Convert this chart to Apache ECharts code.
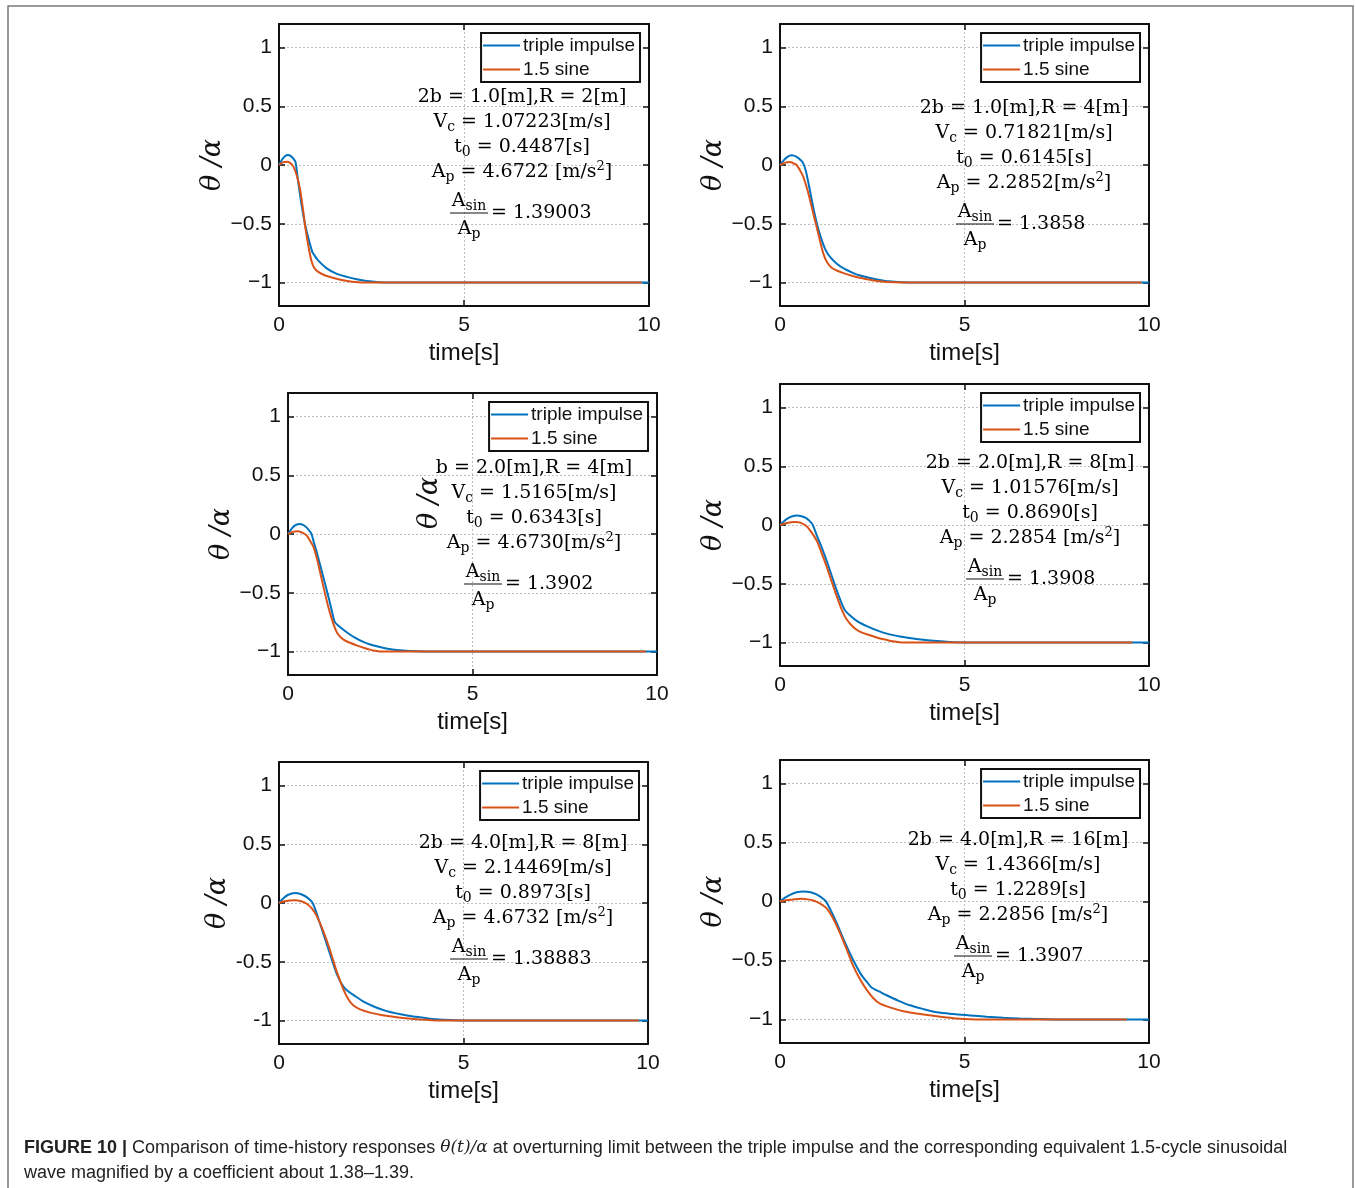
<!DOCTYPE html>
<html>
<head>
<meta charset="utf-8">
<title>Figure 10</title>
<script src="https://cdn.jsdelivr.net/npm/echarts@6/dist/echarts.min.js"></script>
<style>
  html, body { margin: 0; padding: 0; background: #fff; }
  #chart { width: 1356px; height: 1188px; }
</style>
</head>
<body>
<div id="chart"></div>
<script>
// axis ticks
var timeTicks = [0, 5, 10];
var thetaTicks = [-1, -0.5, 0, 0.5, 1];
var seriesNames = ['triple impulse', '1.5 sine'];

// [time(s), theta/alpha]
var p1Impulse = [[0,0],[0.08,0.045],[0.16,0.075],[0.24,0.085],[0.32,0.075],[0.4,0.05],[0.45,0.02],[0.5,-0.1],[0.6,-0.32],[0.7,-0.5],[0.8,-0.63],[0.9,-0.74],[0.93,-0.755],[1.05,-0.81],[1.29,-0.88],[1.55,-0.925],[1.83,-0.952],[2.1,-0.973],[2.37,-0.988],[2.7,-0.997],[3.0,-1],[10,-1]];
var p1Sine = [[0,0],[0.1,0.022],[0.21,0.028],[0.3,0.018],[0.39,-0.014],[0.48,-0.09],[0.57,-0.21],[0.65,-0.38],[0.72,-0.55],[0.8,-0.7],[0.88,-0.82],[0.95,-0.875],[1.06,-0.91],[1.25,-0.94],[1.55,-0.968],[1.85,-0.987],[2.15,-0.998],[2.3,-1],[9.8,-1]];

var p2Impulse = [[0,0],[0.1,0.04],[0.2,0.07],[0.32,0.082],[0.45,0.07],[0.55,0.045],[0.62,0.02],[0.7,-0.05],[0.8,-0.2],[0.9,-0.36],[1.0,-0.5],[1.1,-0.61],[1.23,-0.72],[1.35,-0.78],[1.54,-0.84],[1.75,-0.885],[1.99,-0.92],[2.2,-0.943],[2.44,-0.962],[2.7,-0.978],[2.95,-0.99],[3.3,-0.997],[3.7,-1],[10,-1]];
var p2Sine = [[0,0],[0.12,0.018],[0.27,0.025],[0.38,0.012],[0.45,0],[0.55,-0.05],[0.63,-0.1],[0.75,-0.22],[0.9,-0.41],[1.05,-0.6],[1.17,-0.75],[1.28,-0.83],[1.4,-0.875],[1.55,-0.9],[1.72,-0.92],[1.95,-0.942],[2.17,-0.96],[2.4,-0.975],[2.62,-0.988],[2.9,-0.996],[3.3,-1],[9.8,-1]];

var p3Impulse = [[0,0],[0.1,0.045],[0.2,0.075],[0.33,0.085],[0.45,0.07],[0.55,0.04],[0.63,0.005],[0.7,-0.07],[0.8,-0.18],[0.96,-0.37],[1.1,-0.54],[1.2,-0.67],[1.27,-0.75],[1.4,-0.79],[1.59,-0.836],[1.8,-0.88],[2.04,-0.918],[2.25,-0.942],[2.49,-0.962],[2.7,-0.976],[2.94,-0.987],[3.3,-0.996],[3.7,-1],[10,-1]];
var p3Sine = [[0,0],[0.12,0.018],[0.28,0.024],[0.4,0.01],[0.51,-0.014],[0.6,-0.06],[0.69,-0.11],[0.8,-0.23],[0.96,-0.45],[1.1,-0.63],[1.23,-0.765],[1.33,-0.84],[1.45,-0.885],[1.6,-0.915],[1.86,-0.948],[2.05,-0.968],[2.22,-0.984],[2.4,-0.995],[2.54,-1],[9.7,-1]];

var p4Impulse = [[0,0],[0.1,0.03],[0.2,0.055],[0.32,0.072],[0.45,0.08],[0.58,0.075],[0.7,0.06],[0.8,0.035],[0.88,0.005],[1.0,-0.09],[1.13,-0.19],[1.26,-0.3],[1.4,-0.43],[1.53,-0.55],[1.65,-0.65],[1.76,-0.725],[1.9,-0.77],[2.1,-0.82],[2.35,-0.86],[2.7,-0.905],[3.0,-0.933],[3.25,-0.948],[3.7,-0.97],[4.15,-0.986],[4.6,-0.995],[5.05,-0.999],[5.5,-1],[10,-1]];
var p4Sine = [[0,0],[0.15,0.015],[0.3,0.024],[0.41,0.026],[0.55,0.02],[0.72,-0.01],[0.85,-0.06],[0.99,-0.13],[1.12,-0.23],[1.26,-0.35],[1.4,-0.48],[1.53,-0.6],[1.66,-0.71],[1.8,-0.8],[1.99,-0.87],[2.15,-0.905],[2.35,-0.93],[2.6,-0.955],[2.8,-0.972],[3.0,-0.987],[3.25,-0.998],[3.35,-1],[9.55,-1]];

var p5Impulse = [[0,0],[0.12,0.04],[0.25,0.07],[0.43,0.085],[0.6,0.075],[0.75,0.05],[0.9,0.006],[1.0,-0.07],[1.2,-0.26],[1.4,-0.45],[1.56,-0.6],[1.7,-0.69],[1.83,-0.74],[2.05,-0.79],[2.29,-0.84],[2.6,-0.885],[2.92,-0.92],[3.3,-0.947],[3.64,-0.966],[4.0,-0.98],[4.27,-0.989],[4.65,-0.996],[5.0,-1],[10,-1]];
var p5Sine = [[0,0],[0.15,0.015],[0.3,0.022],[0.43,0.024],[0.6,0.015],[0.75,-0.006],[0.9,-0.05],[1.02,-0.11],[1.2,-0.24],[1.38,-0.4],[1.56,-0.58],[1.74,-0.73],[1.88,-0.82],[2.01,-0.87],[2.2,-0.905],[2.47,-0.933],[2.8,-0.955],[3.19,-0.972],[3.5,-0.983],[3.82,-0.991],[4.15,-0.997],[4.45,-1],[9.75,-1]];

var p6Impulse = [[0,0],[0.15,0.035],[0.3,0.06],[0.45,0.078],[0.63,0.085],[0.8,0.08],[0.99,0.06],[1.12,0.035],[1.24,0.003],[1.4,-0.09],[1.54,-0.185],[1.75,-0.34],[1.99,-0.5],[2.2,-0.62],[2.35,-0.68],[2.48,-0.73],[2.7,-0.765],[2.89,-0.795],[3.2,-0.84],[3.52,-0.88],[3.9,-0.913],[4.25,-0.94],[4.7,-0.955],[5.15,-0.966],[5.6,-0.977],[6.05,-0.986],[6.5,-0.993],[6.96,-0.997],[7.5,-1],[10,-1]];
var p6Sine = [[0,0],[0.2,0.012],[0.4,0.02],[0.59,0.023],[0.75,0.018],[0.9,0.009],[1.08,-0.015],[1.26,-0.057],[1.45,-0.15],[1.63,-0.27],[1.8,-0.4],[1.99,-0.55],[2.17,-0.66],[2.35,-0.75],[2.53,-0.82],[2.71,-0.866],[3.0,-0.9],[3.34,-0.93],[3.8,-0.955],[4.25,-0.974],[4.7,-0.99],[5.15,-0.999],[5.3,-1],[9.4,-1]];

// annotation values per panel
var sizeLines = ['2b = 1.0[m],R = 2[m]', '2b = 1.0[m],R = 4[m]', 'b = 2.0[m],R = 4[m]', '2b = 2.0[m],R = 8[m]', '2b = 4.0[m],R = 8[m]', '2b = 4.0[m],R = 16[m]'];
var vcValues = ['1.07223', '0.71821', '1.5165', '1.01576', '2.14469', '1.4366'];
var t0Values = ['0.4487', '0.6145', '0.6343', '0.8690', '0.8973', '1.2289'];
var apValues = ['4.6722 ', '2.2852', '4.6730', '2.2854 ', '4.6732 ', '2.2856 '];
var ratioValues = ['1.39003', '1.3858', '1.3902', '1.3908', '1.38883', '1.3907'];

var impulseData = [p1Impulse, p2Impulse, p3Impulse, p4Impulse, p5Impulse, p6Impulse];
var sineData = [p1Sine, p2Sine, p3Sine, p4Sine, p5Sine, p6Sine];

// layout: [left, top, width, height] of each plot box, then text anchors
var boxes = [[279, 24, 370, 282], [780, 24, 369, 282], [288, 393, 369, 282], [780, 384, 369, 282], [279, 762, 369, 282], [780, 760, 369, 283]];
var textAnchors = [[522, 97, 469], [1024, 108, 975], [534, 468, 483], [1030, 463, 985], [523, 843, 469], [1018, 840, 973]];

var W = 1356;
var INK = '#111';
var SANS = 'Liberation Sans, Arial, sans-serif';
var SERIF = 'DejaVu Serif, serif';
var BLUE = '#0072BD';
var RED = '#D95319';

var chart = echarts.init(document.getElementById('chart'));

var grids = [], xAxes = [], yAxes = [], topAxes = [], rightAxes = [], series = [], legends = [], graphics = [];

var mathRich = {
  m: { fontFamily: SERIF, fontSize: 19, lineHeight: 23, color: INK },
  s: { fontFamily: SERIF, fontSize: 14, lineHeight: 14, padding: [10, 0, 0, 0], color: INK },
  u: { fontFamily: SERIF, fontSize: 13, lineHeight: 13, padding: [0, 0, 10, 0], color: INK }
};

function mathText(x, y, text, align) {
  return {
    type: 'text', x: x, y: y, z: 10,
    style: { text: text, rich: mathRich, align: align || 'center', verticalAlign: 'middle' }
  };
}

boxes.forEach(function (b, i) {
  grids.push({ left: b[0], top: b[1], width: b[2], height: b[3] });

  xAxes.push({
    gridIndex: i, type: 'value', min: 0, max: 10, interval: 5,
    axisLine: { onZero: false, lineStyle: { color: INK, width: 2 } },
    axisTick: { inside: true, length: 6, lineStyle: { color: INK, width: 1.5 } },
    axisLabel: { fontFamily: SANS, fontSize: 21, color: INK, margin: 9, showMinLabel: true, showMaxLabel: true },
    splitLine: { show: true, lineStyle: { type: [2, 2], color: '#bdbdbd', width: 1 } },
    name: 'time[s]', nameLocation: 'middle', nameGap: 35,
    nameTextStyle: { fontFamily: SANS, fontSize: 24, color: INK }
  });
  topAxes.push({
    gridIndex: i, type: 'value', position: 'top', min: 0, max: 10, interval: 5,
    axisLine: { onZero: false, lineStyle: { color: INK, width: 2 } },
    axisTick: { inside: true, length: 6, lineStyle: { color: INK, width: 1.5 } },
    axisLabel: { show: false }, splitLine: { show: false }
  });

  var minus = i === 4 ? '-' : '\u2212';
  yAxes.push({
    gridIndex: i, type: 'value', min: -1.2, max: 1.2,
    axisLine: { onZero: false, lineStyle: { color: INK, width: 2 } },
    axisTick: { inside: true, length: 6, customValues: thetaTicks, lineStyle: { color: INK, width: 1.5 } },
    axisLabel: {
      customValues: thetaTicks, fontFamily: SANS, fontSize: 21, color: INK, margin: 7,
      formatter: function (v) { return v < 0 ? minus + String(-v) : String(v); }
    },
    splitLine: { show: true, lineStyle: { type: [2, 2], color: '#bdbdbd', width: 1 } },
    name: '\u03B8 /\u03B1', nameLocation: 'middle', nameGap: 48, nameRotate: 90,
    nameTextStyle: { fontFamily: SERIF, fontStyle: 'italic', fontSize: 27, color: INK }
  });
  rightAxes.push({
    gridIndex: i, type: 'value', position: 'right', min: -1.2, max: 1.2,
    axisLine: { onZero: false, lineStyle: { color: INK, width: 2 } },
    axisTick: { inside: true, length: 6, customValues: thetaTicks, lineStyle: { color: INK, width: 1.5 } },
    axisLabel: { show: false }, splitLine: { show: false }
  });

  series.push({
    type: 'line', name: seriesNames[0], xAxisIndex: i, yAxisIndex: i,
    data: impulseData[i], symbol: 'none', smooth: 0.25, z: 3,
    lineStyle: { color: BLUE, width: 2 }, itemStyle: { color: BLUE }
  });
  series.push({
    type: 'line', name: seriesNames[1], xAxisIndex: i, yAxisIndex: i,
    data: sineData[i], symbol: 'none', smooth: 0.25, z: 4,
    lineStyle: { color: RED, width: 2 }, itemStyle: { color: RED }
  });

  legends.push({
    data: seriesNames, orient: 'vertical', selectedMode: false,
    right: W - (b[0] + b[2]) + 9, top: b[1] + 9,
    backgroundColor: '#fff', borderColor: INK, borderWidth: 2,
    padding: [3, 5, 3, 2], itemGap: 5, itemWidth: 37, itemHeight: 2,
    icon: 'rect',
    textStyle: { fontFamily: SANS, fontSize: 19, lineHeight: 19, color: INK, padding: [0, 0, 0, -2] }
  });

  var a = textAnchors[i];
  graphics.push(mathText(a[0], a[1], '{m|' + sizeLines[i] + '}'));
  graphics.push(mathText(a[0], a[1] + 25, '{m|V}{s|c}{m| = ' + vcValues[i] + '[m/s]}'));
  graphics.push(mathText(a[0], a[1] + 50, '{m|t}{s|0}{m| = ' + t0Values[i] + '[s]}'));
  graphics.push(mathText(a[0], a[1] + 75, '{m|A}{s|p}{m| = ' + apValues[i] + '[m/s}{u|2}{m|]}'));
  // fraction A_sin / A_p
  graphics.push(mathText(a[2], a[1] + 104, '{m|A}{s|sin}'));
  graphics.push({
    type: 'line', z: 10,
    shape: { x1: a[2] - 19, y1: a[1] + 116, x2: a[2] + 19, y2: a[1] + 116 },
    style: { stroke: INK, lineWidth: 1.2 }
  });
  graphics.push(mathText(a[2], a[1] + 132, '{m|A}{s|p}'));
  graphics.push(mathText(a[2] + 22, a[1] + 116, '{m|= ' + ratioValues[i] + '}', 'left'));
});

// stray axis label left in the middle panel of the original
graphics.push({
  type: 'text', x: 430, y: 503, rotation: Math.PI / 2, z: 10,
  style: { text: '\u03B8 /\u03B1', fontFamily: SERIF, fontStyle: 'italic', fontSize: 27, fill: INK, align: 'center', verticalAlign: 'middle' }
});

// outer frame and caption
graphics.push({
  type: 'rect', z: 0, silent: true,
  shape: { x: 8, y: 6, width: 1345, height: 1210 },
  style: { fill: 'none', stroke: '#7a7a7a', lineWidth: 1.5 }
});
graphics.push({
  type: 'text', x: 24, y: 1148, z: 10,
  style: {
    text: '{b|FIGURE 10 |} Comparison of time-history responses {i|\u03B8(t)/\u03B1} at overturning limit between the triple impulse and the corresponding equivalent 1.5-cycle sinusoidal',
    fontFamily: SANS, fontSize: 18, fill: '#222', align: 'left', verticalAlign: 'middle',
    rich: {
      b: { fontFamily: SANS, fontSize: 18, fontWeight: 'bold', color: '#222' },
      i: { fontFamily: SERIF, fontSize: 17, fontStyle: 'italic', color: '#222' }
    }
  }
});
graphics.push({
  type: 'text', x: 24, y: 1173, z: 10,
  style: { text: 'wave magnified by a coefficient about 1.38\u20131.39.', fontFamily: SANS, fontSize: 18, fill: '#222', align: 'left', verticalAlign: 'middle' }
});

chart.setOption({
  animation: false,
  backgroundColor: '#fff',
  grid: grids,
  xAxis: xAxes.concat(topAxes),
  yAxis: yAxes.concat(rightAxes),
  legend: legends,
  series: series,
  graphic: graphics
});
</script>
</body>
</html>
